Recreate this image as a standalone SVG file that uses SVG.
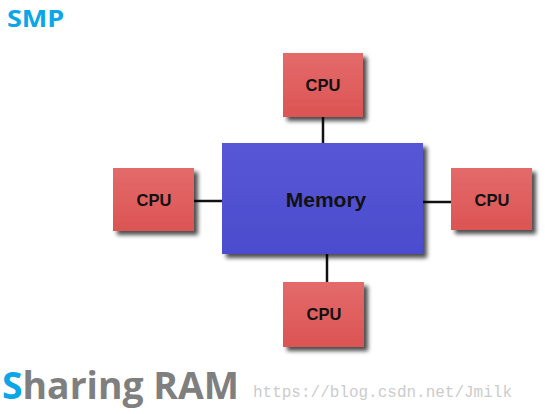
<svg xmlns="http://www.w3.org/2000/svg" width="545" height="414" viewBox="0 0 545 414">
<defs>
<filter id="sh" x="-20%" y="-20%" width="150%" height="150%">
<feGaussianBlur in="SourceAlpha" stdDeviation="2"/>
<feOffset dx="4" dy="4" result="b"/>
<feComponentTransfer><feFuncA type="linear" slope="0.7"/></feComponentTransfer>
<feMerge><feMergeNode/><feMergeNode in="SourceGraphic"/></feMerge>
</filter>
<linearGradient id="cpuG" x1="0" y1="0" x2="0" y2="1">
<stop offset="0" stop-color="#e46a6a"/><stop offset="1" stop-color="#dc5454"/>
</linearGradient>
<linearGradient id="memG" x1="0" y1="0" x2="0" y2="1">
<stop offset="0" stop-color="#5656d6"/><stop offset="1" stop-color="#4c4cce"/>
</linearGradient>
</defs>
<style>
.cpu{fill:url(#cpuG);filter:url(#sh)}
.mem{fill:url(#memG);filter:url(#sh)}
.lbl{font-family:"Liberation Sans",Arial,sans-serif;font-weight:bold;fill:#111;text-anchor:middle}
.conn line{stroke:#111;stroke-width:2.5}
</style>
<text transform="translate(7,27) scale(1.2,1)" font-family="'Open Sans',sans-serif" font-weight="bold" font-size="22.5" fill="#0aa6e8">SMP</text>
<g class="conn">
<line x1="323" y1="117" x2="323" y2="144"/>
<line x1="194" y1="201" x2="223" y2="201"/>
<line x1="422" y1="202" x2="452" y2="202"/>
<line x1="327" y1="253" x2="327" y2="283"/>
</g>
<g id="memory"><rect class="mem" x="222" y="143" width="201" height="111"/><text class="lbl" x="326" y="207" font-size="21">Memory</text></g>
<g id="cpu-top"><rect class="cpu" x="283" y="53" width="80" height="64"/><text class="lbl" x="323" y="91" font-size="16.5">CPU</text></g>
<g id="cpu-left"><rect class="cpu" x="113" y="168" width="81" height="63"/><text class="lbl" x="154" y="206" font-size="16.5">CPU</text></g>
<g id="cpu-right"><rect class="cpu" x="451" y="168" width="81" height="62"/><text class="lbl" x="492" y="206" font-size="16.5">CPU</text></g>
<g id="cpu-bottom"><rect class="cpu" x="283" y="282" width="81" height="65"/><text class="lbl" x="324" y="320" font-size="16.5">CPU</text></g>
<text x="2" y="399" font-family="'Open Sans',sans-serif" font-weight="bold" font-size="38" fill="#7f7f7f" textLength="237" lengthAdjust="spacingAndGlyphs"><tspan fill="#0aa6e8">S</tspan>haring RAM</text>
<text x="253" y="397" font-family="'Liberation Mono',monospace" font-size="16" fill="#cccccc" textLength="259" lengthAdjust="spacingAndGlyphs">https://blog.csdn.net/Jmilk</text>
</svg>
